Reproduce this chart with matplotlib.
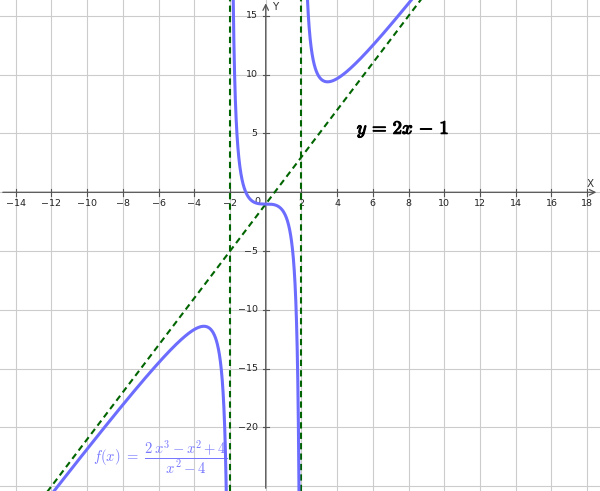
import numpy as np
import matplotlib
matplotlib.use("Agg")
import matplotlib.pyplot as plt
import matplotlib.patheffects as pe

# f(x) = (2x^3 - x^2 + 4) / (x^2 - 4), as shown in the label
num_coef = [2, -1, 0, 4]
den_coef = [1, 0, -4]
asymptotes = [-2, 2]
line_slope = 2
line_icpt = -1

x_ticks = [-14, -12, -10, -8, -6, -4, -2, 2, 4, 6, 8, 10, 12, 14, 16, 18]
y_ticks = [-20, -15, -10, -5, 5, 10, 15]
x_grid = list(range(-14, 20, 2))
y_grid = [-25, -20, -15, -10, -5, 0, 5, 10, 15]

XMIN, XMAX = -14.88, 18.72
YMIN, YMAX = -25.4, 16.35

C_CURVE = "#6c6cff"
C_LINE = "#006400"
C_GRID = "#cccccc"
C_AXIS = "#555555"

plt.rcParams["mathtext.fontset"] = "cm"

fig = plt.figure(figsize=(6.0, 4.91), dpi=100)
ax = fig.add_axes([0, 0, 1, 1])
ax.set_xlim(XMIN, XMAX)
ax.set_ylim(YMIN, YMAX)
ax.axis("off")

# grid
for gx in x_grid:
    ax.axvline(gx, color=C_GRID, lw=0.8, zorder=0)
for gy in y_grid:
    ax.axhline(gy, color=C_GRID, lw=0.8, zorder=0)

# axes with arrows
ax.annotate("", xy=(XMAX - 0.05, 0), xytext=(XMIN, 0),
            arrowprops=dict(arrowstyle="->", color=C_AXIS, lw=0.9), zorder=2)
ax.annotate("", xy=(0, YMAX - 0.05), xytext=(0, YMIN),
            arrowprops=dict(arrowstyle="->", color=C_AXIS, lw=0.9), zorder=2)
ax.text(XMAX - 0.55, 0.25, "X", fontsize=7.5, color="#333333", ha="center", va="bottom")
ax.text(0.55, YMAX - 0.2, "Y", fontsize=7.5, color="#333333", ha="center", va="top")

# ticks + labels
for t in x_ticks:
    ax.plot([t, t], [-0.3, 0.3], color=C_AXIS, lw=0.8, zorder=2)
    ax.text(t, -0.55, f"{t}".replace("-", "\u2212"), fontsize=6.8,
            ha="center", va="top", color="#222222")
for t in y_ticks:
    ax.plot([-0.16, 0.16], [t, t], color=C_AXIS, lw=0.8, zorder=2)
    ax.text(-0.45, t, f"{t}".replace("-", "\u2212"), fontsize=6.8,
            ha="right", va="center", color="#222222")
ax.text(-0.3, -0.4, "0", fontsize=6.8, ha="right", va="top", color="#222222")

# oblique asymptote
xl = np.array([XMIN, XMAX])
ax.plot(xl, line_slope * xl + line_icpt, color=C_LINE, lw=1.5,
        ls=(0, (3, 2)), zorder=3)
# vertical asymptotes
for a in asymptotes:
    ax.axvline(a, color=C_LINE, lw=1.5, ls=(0, (3, 2)), zorder=3)

# function, drawn piecewise between the asymptotes
edges = [XMIN] + asymptotes + [XMAX]
for lo, hi in zip(edges[:-1], edges[1:]):
    xs = np.linspace(lo + 1e-4, hi - 1e-4, 4000)
    ys = np.polyval(num_coef, xs) / np.polyval(den_coef, xs)
    ax.plot(xs, ys, color=C_CURVE, lw=2.2, zorder=4, solid_capstyle="round")

ax.text(5.1, 5.4, r"$y\,=\,2x\,-\,1$", fontsize=13.5, ha="left", va="center",
        color="black", path_effects=[pe.withStroke(linewidth=0.8, foreground="black")])
ax.text(-9.7, -22.5, r"$f(x)\ =\ \dfrac{2\,x^3 - x^2 + 4}{x^2 - 4}$",
        fontsize=10.5, ha="left", va="center", color="#7878ff")

fig.savefig("out.png", dpi=100)
